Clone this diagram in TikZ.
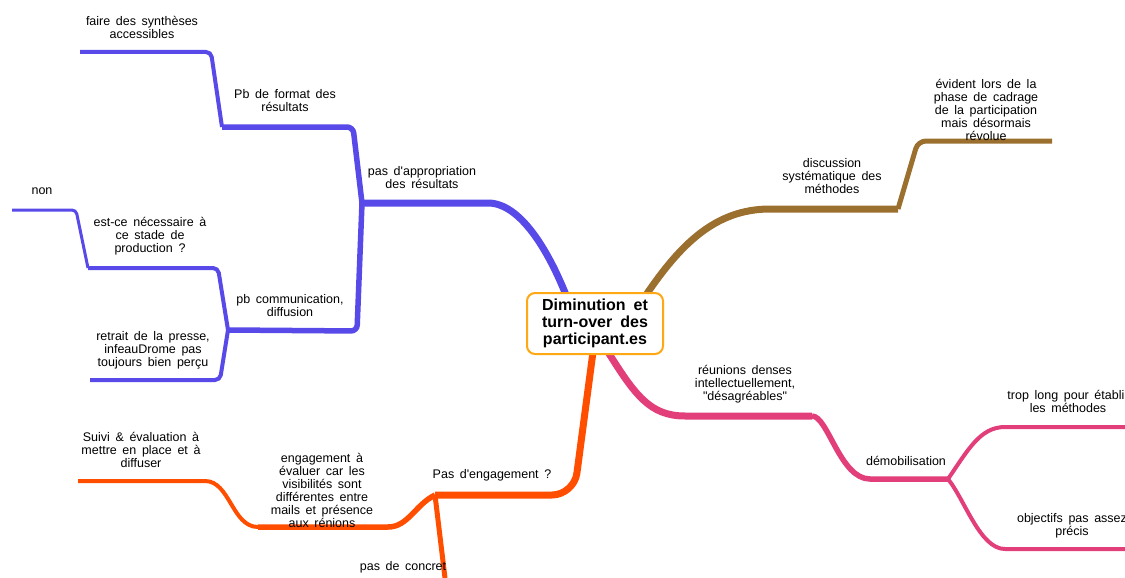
\documentclass[tikz,border=0pt]{standalone}
\usepackage{fontspec}
\setmainfont{Liberation Sans}[Ligatures=TeXOff]
\usetikzlibrary{backgrounds}
\definecolor{mapblue}{RGB}{88,74,232}
\definecolor{mapbrown}{RGB}{155,112,46}
\definecolor{mappink}{RGB}{226,62,122}
\definecolor{maporange}{RGB}{255,78,0}
\definecolor{rootframe}{RGB}{255,168,20}

\begin{document}
\begin{tikzpicture}[x=1pt, y=-1pt,
  lbl/.style={align=center, inner sep=0pt, font=\fontsize{12.5}{13}\selectfont,
    execute at begin node={\spaceskip=0.45em\relax}},
  rootbox/.style={draw=rootframe, line width=2pt, rounded corners=8pt, fill=white,
    minimum width=136pt, minimum height=61pt, align=center, inner sep=0pt,
    font=\fontsize{16}{17}\selectfont\bfseries,
    execute at begin node={\spaceskip=0.5em\relax}},
  twig/.style={line width=#1}]
\useasboundingbox (0,0) rectangle (1125,578);

\node[rootbox] (dimin) at (595,323.5) {Diminution et\\turn-over des\\participant.es};

\coordinate (appr) at (362,203);
\coordinate (format) at (222,127);
\coordinate (synth) at (80,52);
\coordinate (comm) at (228,330);
\coordinate (stade) at (88,268);
\coordinate (non) at (12,210);
\coordinate (presse) at (90,380);
\coordinate (meth) at (898,209);
\coordinate (evid) at (1052,141);
\coordinate (reun) at (812,416);
\coordinate (demob) at (948,479);
\coordinate (long) at (1125,427);
\coordinate (obj) at (1125,549);
\coordinate (engag) at (435,495);
\coordinate (concret) at (445,578);
\coordinate (evalu) at (258,527);
\coordinate (suivi) at (78,481);

\begin{scope}[on background layer]
\draw[mapblue, twig=7pt] ([xshift=-29pt,yshift=-3pt]dimin.north) .. controls (548,250) and (520,203) .. (488,203) -- (appr);
\draw[mapblue, twig=5.5pt, rounded corners=6pt] (appr) -- (353,127) -- (format);
\draw[mapblue, twig=4pt, rounded corners=5pt] (format) -- (211,52) -- (synth);
\draw[mapblue, twig=5.5pt, rounded corners=6pt] (appr) -- (357,331) -- (comm);
\draw[mapblue, twig=4pt, rounded corners=5pt] (comm) -- (218,268) -- (stade);
\draw[mapblue, twig=3pt, rounded corners=4pt] (stade) -- (76,210) -- (non);
\draw[mapblue, twig=4pt, rounded corners=5pt] (comm) -- (220,380) -- (presse);

\draw[mapbrown, twig=7pt] ([xshift=51pt,yshift=-3pt]dimin.north) .. controls (680,245) and (715,209) .. (770,209) -- (meth);
\draw[mapbrown, twig=5pt, rounded corners=8pt] (meth) -- (918,141) -- (evid);

\draw[mappink, twig=7pt] ([xshift=13pt,yshift=3pt]dimin.south) .. controls (635,395) and (650,416) .. (685,416) -- (reun);
\draw[mappink, twig=5.5pt] (reun) .. controls (828,416) and (840,479) .. (870,479) -- (demob);
\draw[mappink, twig=4pt] (demob) .. controls (968,450) and (980,427) .. (1005,427) -- (long);
\draw[mappink, twig=4pt] (demob) .. controls (965,500) and (980,549) .. (1005,549) -- (obj);

\draw[maporange, twig=7pt, rounded corners=22pt] ([xshift=-2pt,yshift=3pt]dimin.south) -- (574,495) -- (engag);
\draw[maporange, twig=5pt] (engag) -- (concret);
\draw[maporange, twig=5.5pt] (engag) .. controls (415,505) and (408,527) .. (388,527) -- (evalu);
\draw[maporange, twig=4pt] (evalu) .. controls (232,527) and (230,481) .. (205,481) -- (suivi);
\end{scope}

\node[lbl] (tAppr) at (422,177.5) {pas d'appropriation\\des résultats};
\node[lbl] (tFormat) at (285,100.5) {Pb de format des\\résultats};
\node[lbl] (tSynth) at (142,27.5) {faire des synthèses\\accessibles};
\node[lbl] (tComm) at (290,305.5) {pb communication,\\diffusion};
\node[lbl] (tStade) at (150,236) {est-ce nécessaire à\\ce stade de\\production ?};
\node[lbl] (tNon) at (42,191) {non};
\node[lbl] (tPresse) at (153,350) {retrait de la presse,\\infeauDrome pas\\toujours bien perçu};
\node[lbl] (tMeth) at (832,176.5) {discussion\\systématique des\\méthodes};
\node[lbl] (tEvid) at (986,110) {évident lors de la\\phase de cadrage\\de la participation\\mais désormais\\révolue};
\node[lbl] (tReun) at (745,384.5) {réunions denses\\intellectuellement,\\"désagréables"};
\node[lbl] (tDemob) at (906,461) {démobilisation};
\node[lbl] (tLong) at (1068,401.5) {trop long pour établir\\les méthodes};
\node[lbl] (tObj) at (1072,526) {objectifs pas assez\\précis};
\node[lbl] (tEngag) at (492,475) {Pas d'engagement ?};
\node[lbl] (tConcret) at (403,567) {pas de concret};
\node[lbl] (tEvalu) at (322,490) {engagement à\\évaluer car les\\visibilités sont\\différentes entre\\mails et présence\\aux rénions};
\node[lbl] (tSuivi) at (141,450) {Suivi \& évaluation à\\mettre en place et à\\diffuser};

\end{tikzpicture}
\end{document}
